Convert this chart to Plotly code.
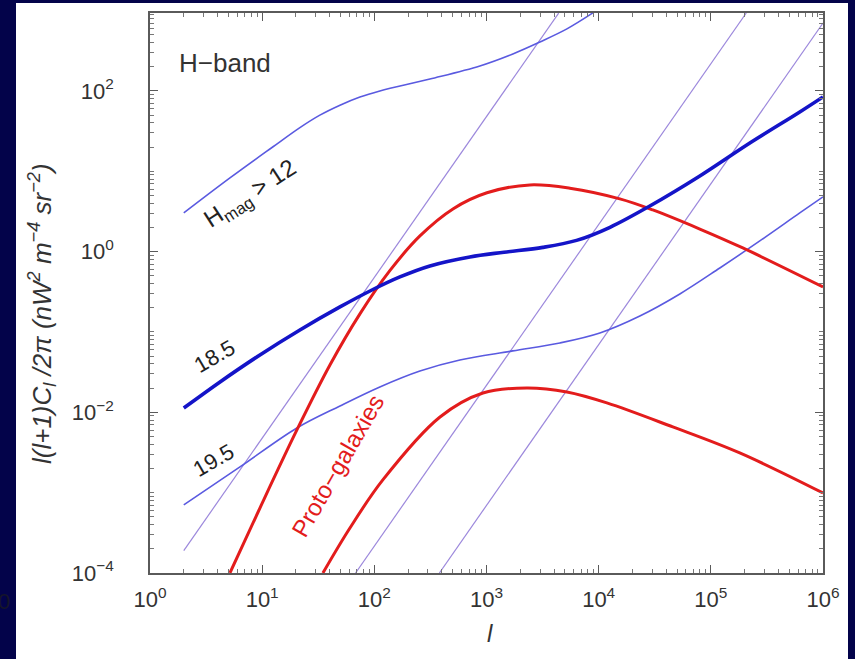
import plotly.graph_objects as go

# ---- angular power spectra l(l+1)C_l/2pi in the H band ----
# bright galaxy counts, H_mag > 12
l_h12 = [2, 5.16, 12.5, 21.7, 32.7, 49.4, 74.4, 112, 313, 873, 1718, 2992, 5212, 8872]
c_h12 = [3.03, 8.26, 20.2, 35.0, 50.0, 66.5, 84.1, 100, 141, 205, 289, 407, 592, 935]

# galaxies fainter than H = 18.5
l_h185 = [2, 4.21, 9.55, 21.7, 49.4, 95.2, 169, 313, 711, 1431, 3179, 6349, 12620,
          28580, 79800, 222800, 620900, 1e6]
c_h185 = [0.0113, 0.0239, 0.0518, 0.106, 0.205, 0.333, 0.484, 0.664, 0.859, 0.983, 1.13,
          1.38, 2.01, 3.70, 8.75, 22.5, 54.8, 84.3]

# galaxies fainter than H = 19.5
l_h195 = [2, 6.34, 20.4, 49.4, 112, 255, 579, 1718, 4510, 10250, 23290, 52930, 120300,
          273300, 620900, 1e6]
c_h195 = [7.03e-4, 2.09e-3, 6.38e-3, 0.0120, 0.0207, 0.0327, 0.0449, 0.0581, 0.0730,
          0.0972, 0.158, 0.297, 0.626, 1.358, 3.03, 4.80]

# proto-galaxies, upper model
l_pg_hi = [5.16, 9.55, 20.4, 40.2, 74.4, 138, 255, 502, 1009, 2438, 5534, 15450,
           30400, 79800, 192800, 1e6]
c_pg_hi = [1e-4, 6.44e-4, 6.03e-3, 0.0388, 0.168, 0.583, 1.567, 3.40, 5.40, 6.76,
           6.15, 4.53, 3.30, 1.91, 1.11, 0.363]

# proto-galaxies, lower model
l_pg_lo = [34.8, 60.6, 119, 385, 929, 2291, 5212, 11830, 45810, 181100, 1e6]
c_pg_lo = [1e-4, 3.63e-4, 1.44e-3, 8.75e-3, 0.0174, 0.0201, 0.0179, 0.0131, 6.58e-3,
           3.12e-3, 9.9e-4]

# shot-noise lines (C_l constant, so l^2 in this plane)
l_shot1 = [2, 4400]
c_shot1 = [1.9e-4, 930]
l_shot2 = [68, 207000]
c_shot2 = [1e-4, 933]
l_shot3 = [380, 1e6]
c_shot3 = [1e-4, 700]

# axis ticks
x_ticks = [1, 10, 100, 1e3, 1e4, 1e5, 1e6]
x_tick_text = ["10<sup>0</sup>", "10<sup>1</sup>", "10<sup>2</sup>", "10<sup>3</sup>",
               "10<sup>4</sup>", "10<sup>5</sup>", "10<sup>6</sup>"]
y_ticks = [1e-4, 1e-2, 1, 100]
y_tick_text = ["10<sup>\u22124</sup>", "10<sup>\u22122</sup>", "10<sup>0</sup>", "10<sup>2</sup>"]

NAVY = "#03034a"
THICK_BLUE = "#1414c8"
THIN_BLUE = "#5a5ae0"
LAVENDER = "#9c88dc"
RED = "#e31c1c"
INK = "#333333"
FONT = "Liberation Sans"

fig = go.Figure()

for lx, cy in [(l_shot1, c_shot1), (l_shot2, c_shot2), (l_shot3, c_shot3)]:
    fig.add_trace(go.Scatter(x=lx, y=cy, mode="lines",
                             line=dict(color=LAVENDER, width=1.2), hoverinfo="skip"))

for lx, cy in [(l_h12, c_h12), (l_h195, c_h195)]:
    fig.add_trace(go.Scatter(x=lx, y=cy, mode="lines",
                             line=dict(color=THIN_BLUE, width=1.6, shape="spline", smoothing=1.0)))

for lx, cy in [(l_pg_hi, c_pg_hi), (l_pg_lo, c_pg_lo)]:
    fig.add_trace(go.Scatter(x=lx, y=cy, mode="lines",
                             line=dict(color=RED, width=3, shape="spline", smoothing=1.0)))

fig.add_trace(go.Scatter(x=l_h185, y=c_h185, mode="lines",
                         line=dict(color=THICK_BLUE, width=3.6, shape="spline", smoothing=1.0)))

# minor tick positions: every integer multiple within each decade
minor_x = [m * 10 ** k for k in range(0, 6) for m in range(2, 10)] + [10 ** k for k in range(0, 7)]
minor_y = [m * 10.0 ** k for k in range(-4, 3) for m in range(2, 10)] + [10.0 ** k for k in range(-4, 3)]

axis_common = dict(
    type="log", showgrid=False, zeroline=False,
    showline=True, linecolor="#5a5a5a", linewidth=1.5, mirror="ticks",
    ticks="inside", ticklen=8, tickwidth=1, tickcolor="#5a5a5a",
    tickfont=dict(family=FONT, size=22, color=INK),
    tickmode="array",
)

fig.update_xaxes(**axis_common, range=[0, 6], tickvals=x_ticks, ticktext=x_tick_text,
                 ticklabelstandoff=6,
                 minor=dict(tickmode="array", tickvals=minor_x, ticks="inside",
                            ticklen=4, tickcolor="#777777", showgrid=False))
fig.update_yaxes(**axis_common, range=[-4, 2.97], tickvals=y_ticks, ticktext=y_tick_text,
                 ticklabelstandoff=30,
                 minor=dict(tickmode="array", tickvals=minor_y, ticks="inside",
                            ticklen=4, tickcolor="#777777", showgrid=False))


def px(xp):
    return (xp - 150) / 673.0


def py(yp):
    return (573 - yp) / 560.0


# navy frame around the white page
for x0, x1, y0, y1 in [(-20, 16, 700, -20), (-20, 880, 3, -20), (848, 880, 700, -20)]:
    fig.add_shape(type="rect", xref="paper", yref="paper",
                  x0=px(x0), x1=px(x1), y0=py(y0), y1=py(y1),
                  fillcolor=NAVY, line=dict(width=0), layer="above")

annotations = [
    dict(text="H\u2212band", x=px(225), y=py(63), font=dict(family=FONT, size=26, color=INK)),
    dict(text="H<sub>mag</sub> > 12", x=px(251), y=py(195), textangle=-33,
         font=dict(family=FONT, size=24, color="#222222")),
    dict(text="18.5", x=px(214), y=py(356), textangle=-30,
         font=dict(family=FONT, size=22, color="#222222")),
    dict(text="19.5", x=px(213), y=py(460), textangle=-30,
         font=dict(family=FONT, size=22, color="#222222")),
    dict(text="Proto\u2212galaxies", x=px(337), y=py(466), textangle=-60,
         font=dict(family=FONT, size=24, color=RED)),
    dict(text="<i>l(l+1)C<sub>l</sub> /2\u03c0 (nW<sup>2</sup> m<sup>\u22124</sup> sr<sup>\u22122</sup>)</i>",
         x=px(42), y=py(313), textangle=-90,
         font=dict(family=FONT, size=26, color=INK)),
    dict(text="<i>l</i>", x=px(490), y=py(633), font=dict(family=FONT, size=24, color=INK)),
    dict(text="0", x=px(4), y=py(601), font=dict(family=FONT, size=22, color="#15152a")),
]
for a in annotations:
    a.update(xref="paper", yref="paper", showarrow=False, xanchor="center", yanchor="middle")

fig.update_layout(
    width=855, height=659, autosize=False,
    margin=dict(l=150, r=32, t=13, b=86),
    paper_bgcolor="white", plot_bgcolor="white",
    showlegend=False,
    annotations=annotations,
)

fig.write_html("out.html")
